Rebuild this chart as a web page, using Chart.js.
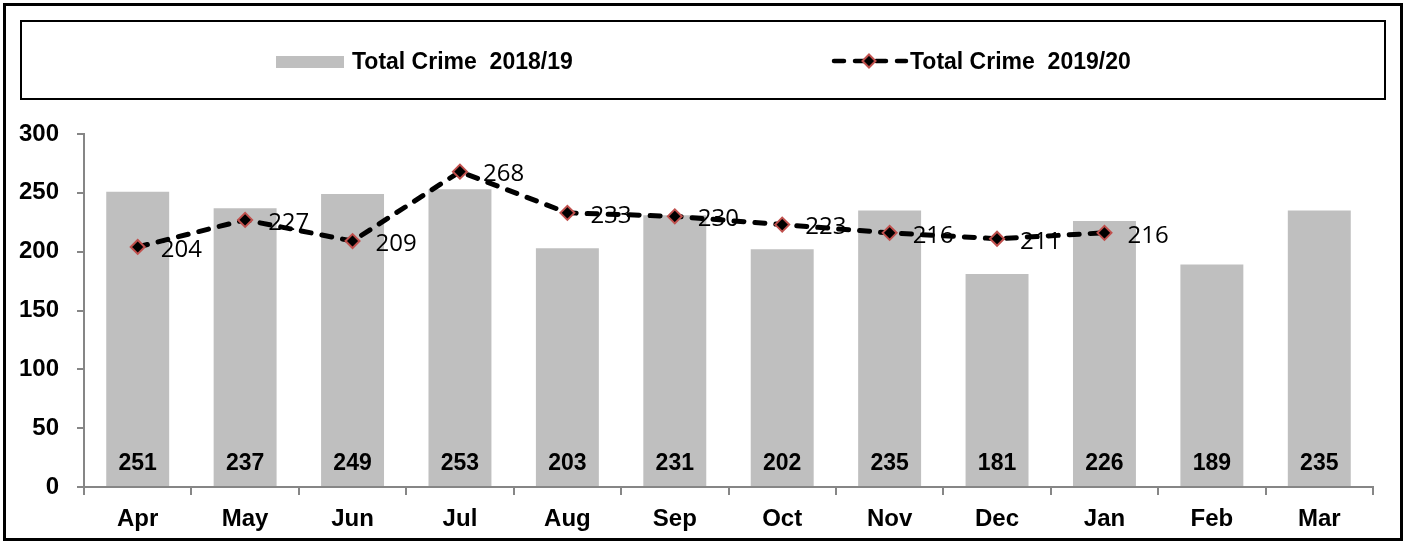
<!DOCTYPE html>
<html>
<head>
<meta charset="utf-8">
<script src="https://cdn.jsdelivr.net/npm/chart.js@4"></script>
<style>
  html, body { margin: 0; padding: 0; background: #fff; }
  #wrap { position: relative; width: 1407px; height: 542px; overflow: hidden; background: #fff; }
  #chart { position: absolute; left: 0; top: 0; }
  #frame { position: absolute; left: 3px; top: 3px; width: 1394px; height: 532px; border: 3px solid #000; pointer-events: none; }
  #legendBox { position: absolute; left: 20px; top: 20px; width: 1362px; height: 76px; border: 2px solid #000; }
  .lg-text { position: absolute; top: 61px; transform: translateY(-50%); line-height: 1;
    font: bold 23px "Liberation Sans", Arial, sans-serif; color: #000; white-space: pre; }
  #swatch { position: absolute; left: 276px; top: 56px; width: 68px; height: 12px; background: #bfbfbf; }
  #lineSample { position: absolute; left: 830px; top: 52px; }
</style>
</head>
<body>
<div id="wrap">
  <canvas id="chart" width="1407" height="542"></canvas>
  <div id="legendBox"></div>
  <div id="swatch"></div>
  <div class="lg-text" style="left:352px">Total Crime  2018/19</div>
  <svg id="lineSample" width="80" height="18">
    <line x1="4" y1="9" x2="76" y2="9" stroke="#000" stroke-width="4.5" stroke-dasharray="10 11" stroke-linecap="round"/>
    <polygon points="39,2.5 45.5,9 39,15.5 32.5,9" fill="#000" stroke="#c0504d" stroke-width="2"/>
  </svg>
  <div class="lg-text" style="left:910px">Total Crime  2019/20</div>
  <div id="frame"></div>
</div>
<script>
const MONTHS = ["Apr", "May", "Jun", "Jul", "Aug", "Sep", "Oct", "Nov", "Dec", "Jan", "Feb", "Mar"];
const CRIME_1819 = [251, 237, 249, 253, 203, 231, 202, 235, 181, 226, 189, 235];
const CRIME_1920 = [204, 227, 209, 268, 233, 230, 223, 216, 211, 216, null, null];
const Y_MIN = 0, Y_MAX = 300, Y_STEP = 50;

const GRAY_BAR = "#bfbfbf";
const AXIS = "#868686";
const MARKER_EDGE = "#c0504d";
const BOLD = "'Liberation Sans', Arial, sans-serif";

// value labels: bold at the foot of each bar, plain to the right of each point
const valueLabels = {
  id: "valueLabels",
  afterDatasetsDraw(chart) {
    const { ctx } = chart;
    const base = chart.scales.y.getPixelForValue(0);
    ctx.save();
    ctx.fillStyle = "#000";
    ctx.textBaseline = "middle";

    ctx.font = "bold 23px " + BOLD;
    ctx.textAlign = "center";
    chart.getDatasetMeta(0).data.forEach((bar, i) => {
      ctx.fillText(String(CRIME_1819[i]), bar.x, base - 23);
    });

    ctx.font = "24px 'Open Sans', sans-serif";
    ctx.textAlign = "left";
    chart.getDatasetMeta(1).data.forEach((pt, i) => {
      if (CRIME_1920[i] == null) return;
      ctx.fillText(String(CRIME_1920[i]), pt.x + 23, pt.y + 3);
    });
    ctx.restore();
  },
};

new Chart(document.getElementById("chart").getContext("2d"), {
  type: "bar",
  data: {
    labels: MONTHS,
    datasets: [
      {
        label: "Total Crime  2018/19",
        data: CRIME_1819,
        backgroundColor: GRAY_BAR,
        categoryPercentage: 1,
        barPercentage: 0.586,
        order: 2,
      },
      {
        type: "line",
        label: "Total Crime  2019/20",
        data: CRIME_1920,
        borderColor: "#000",
        borderWidth: 5,
        borderDash: [10, 11],
        borderCapStyle: "round",
        tension: 0,
        spanGaps: false,
        pointStyle: "rectRot",
        pointRadius: 7,
        pointBackgroundColor: "#000",
        pointBorderColor: MARKER_EDGE,
        pointBorderWidth: 2,
        order: 1,
      },
    ],
  },
  options: {
    responsive: false,
    animation: false,
    events: [],
    layout: { padding: { left: 0, top: 134, right: 34, bottom: 0 } },
    plugins: { legend: { display: false }, tooltip: { enabled: false } },
    scales: {
      x: {
        afterFit: (s) => { s.height = 55; },
        grid: { offset: true, drawOnChartArea: false, color: AXIS, tickLength: 8, lineWidth: 2 },
        border: { color: AXIS, width: 2 },
        ticks: { color: "#000", font: { family: BOLD, weight: "bold", size: 24 }, padding: 10 },
      },
      y: {
        min: Y_MIN,
        max: Y_MAX,
        afterFit: (s) => { s.width = 84; },
        grid: { drawOnChartArea: false, color: AXIS, tickLength: 7, lineWidth: 2 },
        border: { color: AXIS, width: 2 },
        ticks: { stepSize: Y_STEP, color: "#000", font: { family: BOLD, weight: "bold", size: 24 }, padding: 18 },
      },
    },
  },
  plugins: [valueLabels],
});
</script>
</body>
</html>
